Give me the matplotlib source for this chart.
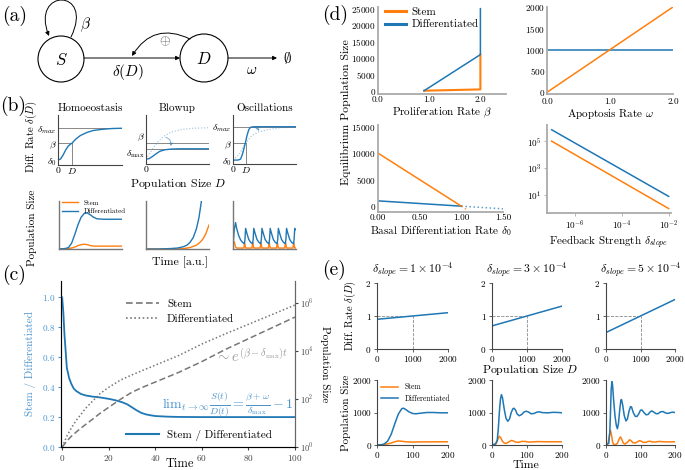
import matplotlib
matplotlib.use("Agg")
import matplotlib.pyplot as plt
import numpy as np
from matplotlib.patches import Circle, FancyArrowPatch
from matplotlib.path import Path
from matplotlib.lines import Line2D

plt.rcParams['font.family'] = 'serif'
plt.rcParams['font.serif'] = ['cmr10', 'DejaVu Serif']
plt.rcParams['mathtext.fontset'] = 'cm'
plt.rcParams['axes.formatter.use_mathtext'] = True
plt.rcParams['axes.unicode_minus'] = False

W, H = 685, 470
ORANGE = '#ff7f0e'
BLUE = '#1f77b4'
LBLUE = '#4d94cc'
DGRAY = '#444444'
TICK = 6.6
LAB = 8

# ---------------- data ----------------
# (b) top row: delta(D) sketches, axis fraction units
b_hom_x = [0, 0.04, 0.08, 0.12, 0.16, 0.22, 0.28, 0.35, 0.45, 0.55, 0.7, 0.85, 1.0]
b_hom_y = [0.1, 0.12, 0.2, 0.3, 0.38, 0.44, 0.52, 0.59, 0.65, 0.69, 0.715, 0.73, 0.735]
b_hom_levels = {'dmax': 0.74, 'beta': 0.44, 'd0': 0.1, 'D': 0.22}

b_blow_x = [0, 0.05, 0.1, 0.15, 0.22, 0.3, 0.4, 0.55, 1.0]
b_blow_y = [0.1, 0.11, 0.15, 0.2, 0.26, 0.29, 0.305, 0.31, 0.31]
b_blow_fx = [0, 0.1, 0.2, 0.3, 0.4, 0.55, 0.75, 1.0]
b_blow_fy = [0.1, 0.3, 0.47, 0.58, 0.65, 0.7, 0.73, 0.74]
b_blow_levels = {'beta': 0.43, 'dmax': 0.31}

b_osc_x = [0, 0.08, 0.12, 0.15, 0.18, 0.2, 0.22, 0.25, 0.28, 0.33, 1.0]
b_osc_y = [0.08, 0.08, 0.1, 0.2, 0.35, 0.45, 0.57, 0.7, 0.75, 0.76, 0.76]
b_osc_fx = [0, 0.1, 0.2, 0.3, 0.4, 0.55, 0.75, 1.0]
b_osc_fy = [0.08, 0.2, 0.43, 0.58, 0.65, 0.7, 0.74, 0.75]
b_osc_levels = {'dmax': 0.76, 'beta': 0.43, 'd0': 0.08, 'D': 0.2}

# (b) bottom row: population sketches, time 0..100, size 0..1
bt_hom_t = [0, 10, 15, 20, 25, 30, 35, 40, 45, 50, 55, 60, 70, 80, 100]
bt_hom_D = [0, 0.01, 0.03, 0.12, 0.3, 0.5, 0.66, 0.74, 0.75, 0.71, 0.66, 0.63, 0.62, 0.62, 0.62]
bt_hom_S = [0, 0, 0.01, 0.02, 0.04, 0.07, 0.09, 0.1, 0.09, 0.07, 0.06, 0.06, 0.06, 0.06, 0.06]

bt_blow_t = [0, 20, 40, 50, 60, 65, 70, 75, 80, 84, 88]
bt_blow_D = [0, 0, 0.01, 0.02, 0.05, 0.08, 0.14, 0.24, 0.42, 0.65, 1.0]
bt_blow_St = [0, 50, 60, 70, 80, 85, 90, 95, 100]
bt_blow_S = [0, 0, 0.01, 0.03, 0.08, 0.13, 0.2, 0.32, 0.5]

bt_osc_t = [0, 2, 4, 6, 9, 12, 15, 18, 19, 20, 22, 25, 28, 31, 32, 33, 35, 38, 41, 44,
            45, 46, 48, 51, 54, 57, 58, 59, 61, 64, 67, 70, 71, 72, 74, 77, 80, 83,
            84, 85, 87, 90, 93, 96, 97, 98, 100]
bt_osc_D = [0.05, 0.4, 0.55, 0.42, 0.28, 0.19, 0.14, 0.11, 0.2, 0.43, 0.33, 0.2, 0.14, 0.11, 0.2, 0.43, 0.33, 0.2, 0.14, 0.11,
            0.2, 0.43, 0.33, 0.2, 0.14, 0.11, 0.2, 0.43, 0.33, 0.2, 0.14, 0.11, 0.2, 0.43, 0.33, 0.2, 0.14, 0.11,
            0.2, 0.43, 0.33, 0.2, 0.14, 0.11, 0.2, 0.43, 0.4]
bt_osc_St = [0, 2, 4, 6, 17, 18.5, 20, 30, 31.5, 33, 43, 44.5, 46, 56, 57.5, 59, 69, 70.5, 72,
             82, 83.5, 85, 95, 96.5, 98, 100]
bt_osc_S = [0.12, 0.15, 0.04, 0.02, 0.02, 0.13, 0.02, 0.02, 0.13, 0.02, 0.02, 0.13, 0.02, 0.02, 0.13, 0.02,
            0.02, 0.13, 0.02, 0.02, 0.13, 0.02, 0.02, 0.13, 0.02, 0.02]

# (c) ratio and log10 population sizes over time
c_t = [0, 0.5, 1, 2, 3, 4, 5, 6, 8, 10, 13, 16, 20, 23, 26, 28, 30, 32, 34, 36, 38, 40, 45, 50, 60, 70, 80, 90, 100]
c_ratio = [1.0, 0.9, 0.75, 0.53, 0.46, 0.42, 0.39, 0.375, 0.355, 0.345, 0.337, 0.332, 0.322, 0.312, 0.298, 0.285,
           0.265, 0.245, 0.228, 0.218, 0.212, 0.207, 0.203, 0.201, 0.2, 0.2, 0.2, 0.2, 0.2]
c_pop_t = [0, 1, 2, 4, 6, 8, 10, 13, 16, 20, 25, 30, 35, 40, 45, 50, 60, 70, 80, 90, 100]
c_stem_log10 = [0, 0.12, 0.25, 0.45, 0.62, 0.78, 0.93, 1.15, 1.38, 1.65, 1.98, 2.28, 2.5, 2.7, 2.9, 3.1, 3.55,
                4.05, 4.5, 4.95, 5.4]
c_diff_log10 = [0, 0.22, 0.45, 0.8, 1.1, 1.35, 1.6, 1.9, 2.2, 2.48, 2.78, 3.0, 3.2, 3.4, 3.6, 3.8, 4.28, 4.7,
                5.1, 5.5, 5.9]

# (d) equilibrium sizes
d_beta_x = [0.9, 2.0, 2.0]
d_beta_D = [0, 11000, 25000]
d_beta_Sx = [0.9, 2.0, 2.0]
d_beta_S = [0, 400, 11000]
d_omega = [0, 2]
d_omega_S = [0, 2000]
d_omega_D = [1000, 1000]
d_d0 = [0, 1.0]
d_d0_S = [10000, 0]
d_d0_D = [1000, 0]
d_d0_ext = [1.0, 1.07, 1.5]
d_d0_S_ext = [0, -700]
d_d0_D_ext = [0, -500]
d_slope = [1e-7, 1e-2]
d_slope_S = [1e5, 1e0]
d_slope_D = [7e5, 8]

# (e) linear feedback and time courses
e_slopes = ['1', '3', '5']
e_D = [0, 2000]
e_delta = [[0.9, 1.1], [0.7, 1.3], [0.5, 1.5]]
e_ref_D, e_ref_delta = 1000, 1

e_t1 = [0, 10, 20, 30, 40, 50, 60, 70, 75, 80, 90, 100, 110, 120, 140, 160, 180, 200]
e_D1 = [0, 5, 30, 120, 330, 650, 950, 1120, 1130, 1100, 1020, 970, 960, 975, 1000, 1000, 990, 990]
e_tS1 = [0, 20, 40, 50, 60, 70, 80, 100, 120, 200]
e_S1 = [0, 10, 60, 100, 125, 115, 100, 90, 95, 100]

e_t2 = [0, 10, 15, 18, 21, 24, 27, 30, 35, 40, 45, 50, 55, 60, 63, 67, 72, 78, 85, 92, 98, 105, 112, 120,
        128, 135, 145, 160, 175, 190, 200]
e_D2 = [0, 30, 150, 500, 1000, 1400, 1550, 1450, 1100, 820, 730, 800, 1000, 1120, 1130, 1080, 950, 900, 940,
        1020, 1040, 1010, 960, 970, 1010, 1020, 995, 990, 1005, 1000, 990]
e_tS2 = [0, 12, 17, 21, 25, 30, 35, 40, 47, 55, 60, 67, 75, 85, 95, 105, 115, 130, 150, 200]
e_S2 = [0, 40, 180, 270, 220, 110, 60, 50, 90, 140, 130, 90, 80, 110, 110, 90, 95, 105, 100, 100]

e_t3 = [0, 8, 11, 13, 15, 17, 19, 22, 26, 30, 33, 36, 40, 43, 45, 48, 53, 58, 62, 67, 71, 74, 79, 85, 90,
        95, 100, 104, 110, 116, 122, 128, 133, 140, 146, 152, 158, 165, 172, 178, 185, 192, 200]
e_D3 = [0, 50, 400, 1000, 1700, 1950, 1850, 1400, 900, 600, 500, 650, 1100, 1380, 1400, 1250, 900, 740, 800,
        1050, 1180, 1170, 1000, 880, 880, 960, 1070, 1080, 1000, 930, 940, 1020, 1050, 1000, 960, 970, 1020,
        1030, 990, 970, 990, 1010, 1000]
e_tS3 = [0, 6, 10, 13, 16, 19, 22, 27, 33, 38, 42, 46, 50, 55, 62, 68, 72, 78, 85, 90, 96, 102, 108, 115,
         122, 128, 135, 145, 155, 165, 180, 200]
e_S3 = [0, 60, 300, 450, 300, 100, 20, 5, 50, 180, 250, 170, 60, 30, 80, 160, 140, 70, 60, 90, 130, 120, 80,
        80, 110, 115, 90, 95, 110, 100, 95, 100]


def box(x0, y0, x1, y1):
    return [x0 / W, 1 - y1 / H, (x1 - x0) / W, (y1 - y0) / H]


def put(x, y, s, **kw):
    fig.text(x / W, 1 - y / H, s, **kw)


def clean(ax, col=DGRAY, lw=0.8):
    for s in ['top', 'right']:
        ax.spines[s].set_visible(False)
    for s in ['left', 'bottom']:
        ax.spines[s].set_color(col)
        ax.spines[s].set_linewidth(lw)
    ax.tick_params(labelsize=TICK, length=2.5, width=0.6, color=col, pad=1.5)


fig = plt.figure(figsize=(W / 100, H / 100), dpi=100)

# ---------------- (a) diagram ----------------
axa = fig.add_axes(box(0, 0, 340, 95))
axa.set_xlim(0, 340)
axa.set_ylim(95, 0)
axa.axis('off')
axa.add_patch(Circle((61, 59), 23, fill=False, lw=0.8, color='k'))
axa.add_patch(Circle((204, 58), 24, fill=False, lw=0.8, color='k'))
axa.text(61, 60, '$S$', ha='center', va='center', fontsize=12)
axa.text(204, 59, '$D$', ha='center', va='center', fontsize=12)
arr = dict(arrowstyle='-|>', color='k', lw=0.7, mutation_scale=6, shrinkA=0, shrinkB=0)
axa.annotate('', xy=(180, 58), xytext=(84, 58), arrowprops=arr)
axa.annotate('', xy=(277, 58), xytext=(228, 58), arrowprops=arr)
axa.annotate('', xy=(132, 56), xytext=(190, 39),
             arrowprops=dict(arr, connectionstyle='arc3,rad=0.45'))
loop = Path([(71, 37), (95, -12), (30, -12), (49, 36)],
            [Path.MOVETO, Path.CURVE4, Path.CURVE4, Path.CURVE4])
axa.add_patch(FancyArrowPatch(path=loop, arrowstyle='-|>', mutation_scale=6, lw=0.7, color='k'))
axa.text(86, 25, r'$\beta$', ha='center', va='center', fontsize=11)
axa.text(128, 72, r'$\delta(D)$', ha='center', va='center', fontsize=11)
axa.text(165, 42, r'$\oplus$', ha='center', va='center', fontsize=10, color='#555555')
axa.text(252, 70, r'$\omega$', ha='center', va='center', fontsize=11)
axa.text(287, 58, r'$\emptyset$', ha='center', va='center', fontsize=11)

# ---------------- (b) sketches ----------------
lvl = dict(color='#888888', lw=0.7)
fade = dict(color=BLUE, alpha=0.45, lw=0.8, ls=':')
BT = 7

ax = fig.add_axes(box(58, 115, 122, 165))
clean(ax)
ax.set_xlim(0, 1)
ax.set_ylim(0, 1)
L = b_hom_levels
ax.plot([0, 1], [L['dmax']] * 2, **lvl)
ax.plot([0, L['D']], [L['beta']] * 2, **lvl)
ax.plot([L['D']] * 2, [0, L['beta']], **lvl)
ax.plot(b_hom_x, b_hom_y, color=BLUE, lw=1)
ax.set_yticks([L['d0'], L['beta'], L['dmax']], [r'$\delta_0$', r'$\beta$', r'$\delta_{max}$'])
ax.set_xticks([0, L['D']], ['0', '$D$'])
ax.tick_params(length=0, labelsize=BT, pad=1)
ax.set_title('Homoeostasis', fontsize=LAB, pad=3)

ax = fig.add_axes(box(146, 115, 209, 164))
clean(ax)
ax.set_xlim(0, 1)
ax.set_ylim(0, 1)
L = b_blow_levels
ax.plot([0, 1], [L['beta']] * 2, **lvl)
ax.plot([0, 1], [L['dmax']] * 2, **lvl)
ax.plot(b_blow_fx, b_blow_fy, **fade)
ax.plot(b_blow_x, b_blow_y, color=BLUE, lw=1)
ax.annotate('', xy=(0.38, 0.31), xytext=(0.27, 0.56),
            arrowprops=dict(arrowstyle='->', color=BLUE, alpha=0.6, lw=0.6,
                            connectionstyle='arc3,rad=-0.6', mutation_scale=5))
ax.set_yticks([L['dmax'], L['beta']], [r'$\delta_{\max}$', r'$\beta$'])
ax.set_xticks([0], ['0'])
ax.tick_params(length=0, labelsize=BT, pad=1)
ax.get_yticklabels()[1].set_va('bottom')
ax.get_yticklabels()[0].set_va('top')
ax.set_title('Blowup', fontsize=LAB, pad=3)

ax = fig.add_axes(box(233, 115, 296, 164))
clean(ax)
ax.set_xlim(0, 1)
ax.set_ylim(0, 1)
L = b_osc_levels
ax.plot([0, 1], [L['dmax']] * 2, **lvl)
ax.plot([0, L['D']], [L['beta']] * 2, **lvl)
ax.plot([L['D']] * 2, [0, L['beta']], **lvl)
ax.plot(b_osc_fx, b_osc_fy, **fade)
ax.plot(b_osc_x, b_osc_y, color=BLUE, lw=1)
ax.annotate('', xy=(0.43, 0.62), xytext=(0.27, 0.74),
            arrowprops=dict(arrowstyle='->', color=BLUE, alpha=0.6, lw=0.6,
                            connectionstyle='arc3,rad=-0.5', mutation_scale=5))
ax.set_yticks([L['d0'], L['beta'], L['dmax']], [r'$\delta_0$', r'$\beta$', r'$\delta_{max}$'])
ax.set_xticks([0, L['D']], ['0', '$D$'])
ax.tick_params(length=0, labelsize=BT, pad=1)
ax.set_title('Oscillations', fontsize=LAB, pad=3)

put(31, 137, r'Diff. Rate $\delta(D)$', rotation=90, ha='center', va='center', fontsize=LAB - 0.3)
put(178, 184, r'Population Size $D$', ha='center', va='center', fontsize=LAB + 0.5)

bt = [(59, 122, bt_hom_t, bt_hom_D, bt_hom_t, bt_hom_S),
      (146, 209, bt_blow_t, bt_blow_D, bt_blow_St, bt_blow_S),
      (233, 296, bt_osc_t, bt_osc_D, bt_osc_St, bt_osc_S)]
for i, (x0, x1, tD, vD, tS, vS) in enumerate(bt):
    ax = fig.add_axes(box(x0, 201, x1, 249))
    clean(ax, col='#777777', lw=1.0)
    ax.plot(tS, vS, color=ORANGE, lw=1, label='Stem')
    ax.plot(tD, vD, color=BLUE, lw=1, label='Differentiated')
    ax.set_xlim(0, 100)
    ax.set_ylim(0, 1)
    ax.set_xticks([])
    ax.set_yticks([])
    if i == 0:
        ax.legend(loc='upper left', fontsize=5, frameon=False, handlelength=2.2,
                  borderaxespad=0.1, labelspacing=0.4, bbox_to_anchor=(0.0, 1.1))
put(32, 228, 'Population Size', rotation=90, ha='center', va='center', fontsize=LAB)
put(180, 262, 'Time [a.u.]', ha='center', va='center', fontsize=LAB + 0.5)

# ---------------- (c) ----------------
axc = fig.add_axes(box(61, 281, 295, 447))
axc.spines['top'].set_visible(False)
for s in ['left', 'bottom', 'right']:
    axc.spines[s].set_color('#666666')
axc.plot(c_t, c_ratio, color=BLUE, lw=1.3)
axc.set_xlim(-0.5, 100)
axc.set_ylim(0, 1.11)
axc.set_yticks([0, 0.2, 0.4, 0.6, 0.8, 1.0])
axc.set_xticks([0, 20, 40, 60, 80, 100])
axc.tick_params(axis='y', labelsize=TICK, colors=LBLUE, length=2.5, pad=1.5)
axc.tick_params(axis='x', labelsize=TICK, colors=DGRAY, length=2.5, pad=1.5)
axc.set_ylabel('Stem / Differentiated', fontsize=LAB, color=LBLUE, labelpad=4)
put(180, 464, 'Time', ha='center', va='center', fontsize=LAB + 1)

axr = axc.twinx()
axr.spines['top'].set_visible(False)
axr.spines['right'].set_color('#666666')
axr.plot(c_pop_t, 10 ** np.array(c_stem_log10), color='#777777', lw=1.1, ls=(0, (4, 2)))
axr.plot(c_pop_t, 10 ** np.array(c_diff_log10), color='#777777', lw=1.1, ls=(0, (1, 1.5)))
axr.set_yscale('log')
axr.set_ylim(1, 10 ** 6.9)
axr.set_yticks([1, 1e2, 1e4, 1e6])
axr.yaxis.set_minor_locator(matplotlib.ticker.NullLocator())
axr.tick_params(axis='y', labelsize=6, colors=DGRAY, length=2.5, pad=1)
axr.set_ylabel('Population Size', fontsize=LAB, rotation=270, labelpad=12)

h1 = [Line2D([], [], color='#777777', lw=1.2, ls=(0, (4, 2))),
      Line2D([], [], color='#777777', lw=1.2, ls=(0, (1, 1.5)))]
fig.legend(h1, ['Stem', 'Differentiated'], loc='upper left', frameon=False, fontsize=LAB,
           bbox_to_anchor=(116 / W, 1 - 289 / H), handlelength=3.0, labelspacing=0.45,
           handletextpad=0.7)
fig.legend([Line2D([], [], color=BLUE, lw=1.5)], ['Stem / Differentiated'], loc='center left',
           frameon=False, fontsize=LAB, bbox_to_anchor=(116 / W, 1 - 435 / H), handlelength=3.0,
           handletextpad=0.7)
put(252, 356, r'$\sim e^{(\beta-\delta_{\max})t}$', ha='center', va='center', fontsize=10.5, color='#999999')
put(228, 404, r'$\mathrm{lim}_{t\to\infty}\frac{S(t)}{D(t)}=\frac{\beta+\omega}{\delta_{\max}}-1$',
    ha='center', va='center', fontsize=10, color=LBLUE)

# ---------------- (d) ----------------
dcol = '#aaaaaa'
ax = fig.add_axes(box(378, 7, 506, 94))
clean(ax, col=dcol, lw=1.3)
ax.plot(d_beta_Sx, d_beta_S, color=ORANGE, lw=1.5, label='Stem')
ax.plot(d_beta_x, d_beta_D, color=BLUE, lw=1.1, label='Differentiated')
ax.set_xlim(0, 2.5)
ax.set_ylim(-1000, 25500)
ax.set_xticks([0, 1, 2], ['0.0', '1.0', '2.0'])
ax.set_yticks([0, 5000, 10000, 15000, 20000, 25000])
ax.tick_params(length=0)
ax.set_xlabel(r'Proliferation Rate $\beta$', fontsize=LAB, labelpad=1)
ax.legend(loc='upper left', fontsize=LAB, frameon=False, handlelength=1.9, borderaxespad=0,
          bbox_to_anchor=(0.02, 1.05), labelspacing=0.25, handletextpad=0.5)
for h in ax.get_legend().legend_handles:
    h.set_linewidth(2.2)

ax = fig.add_axes(box(547, 7, 673, 94))
clean(ax, col=dcol, lw=1.3)
ax.plot(d_omega, d_omega_D, color=BLUE, lw=1.1)
ax.plot(d_omega, d_omega_S, color=ORANGE, lw=1.1)
ax.set_xlim(0, 2)
ax.set_ylim(-40, 2000)
ax.set_xticks([0, 1, 2], ['0.0', '1.0', '2.0'])
ax.set_yticks([0, 500, 1000, 1500, 2000])
ax.tick_params(length=0)
ax.tick_params(axis='x', pad=2.5)
ax.set_xlabel(r'Apoptosis Rate $\omega$', fontsize=LAB, labelpad=1)

ax = fig.add_axes(box(378, 125, 503, 212))
clean(ax, col=dcol, lw=1.3)
ax.plot(d_d0, d_d0_D, color=BLUE, lw=1.1)
ax.plot(d_d0, d_d0_S, color=ORANGE, lw=1.1)
ax.plot([d_d0_ext[0], d_d0_ext[2]], d_d0_D_ext, color=BLUE, lw=1.1, ls=':', alpha=0.7)
ax.plot([d_d0_ext[0], d_d0_ext[1]], d_d0_S_ext, color=ORANGE, lw=1.1, ls=':', alpha=0.7)
ax.set_xlim(0, 1.5)
ax.set_ylim(-1100, 15300)
ax.set_xticks([0, 0.5, 1.0, 1.5], ['0.00', '0.50', '1.00', '1.50'])
ax.set_yticks([0, 5000, 10000, 15000])
ax.tick_params(length=0)
ax.set_xlabel(r'Basal Differentiation Rate $\delta_0$', fontsize=LAB, labelpad=1)

ax = fig.add_axes(box(547, 125, 671, 213))
clean(ax, col=dcol, lw=1.3)
ax.plot(d_slope, d_slope_D, color=BLUE, lw=1.1)
ax.plot(d_slope, d_slope_S, color=ORANGE, lw=1.1)
ax.set_xscale('log')
ax.set_yscale('log')
ax.set_xlim(10 ** -7.2, 10 ** -1.9)
ax.set_ylim(10 ** -0.33, 10 ** 6.2)
ax.set_xticks([1e-6, 1e-4, 1e-2])
ax.set_yticks([1e1, 1e3, 1e5])
ax.xaxis.set_minor_locator(matplotlib.ticker.NullLocator())
ax.yaxis.set_minor_locator(matplotlib.ticker.NullLocator())
ax.tick_params(length=2.5, color=dcol)
ax.set_xlabel(r'Feedback Strength $\delta_{slope}$', fontsize=LAB, labelpad=1)

put(346, 112, 'Equilibrium Population Size', rotation=90, ha='center', va='center', fontsize=LAB + 0.5)

# ---------------- (e) ----------------
xs = [(377, 448), (492, 562), (606, 675)]
times = [(e_t1, e_D1, e_tS1, e_S1), (e_t2, e_D2, e_tS2, e_S2), (e_t3, e_D3, e_tS3, e_S3)]
for i, (x0, x1) in enumerate(xs):
    ax = fig.add_axes(box(x0, 283, x1, 349))
    clean(ax)
    ax.plot([0, e_ref_D], [e_ref_delta] * 2, color='#888888', lw=0.6, ls='--')
    ax.plot([e_ref_D] * 2, [0, e_ref_delta], color='#888888', lw=0.6, ls='--')
    ax.plot(e_D, e_delta[i], color=BLUE, lw=1.1)
    ax.set_xlim(0, 2000)
    ax.set_ylim(0, 2)
    ax.set_xticks([0, 1000, 2000])
    ax.set_yticks([0, 1, 2])
    ax.tick_params(axis='x', pad=1)
    ax.set_title(r'$\delta_{slope} = %s\times10^{-4}$' % e_slopes[i], fontsize=LAB + 0.5, pad=7)

    ax = fig.add_axes(box(x0, 380, x1, 445))
    clean(ax)
    tD, vD, tS, vS = times[i]
    ax.plot(tS, vS, color=ORANGE, lw=1.1, label='Stem')
    ax.plot(tD, vD, color=BLUE, lw=1.1, label='Differentiated')
    ax.set_xlim(0, 200)
    ax.set_ylim(0, 2000)
    ax.set_xticks([0, 100, 200])
    ax.set_yticks([0, 1000, 2000])
    ax.tick_params(axis='x', pad=1)
    ax.tick_params(axis='y', pad=1)
    if i == 0:
        ax.legend(loc='upper left', fontsize=5.5, frameon=False, handlelength=2.2,
                  borderaxespad=0, bbox_to_anchor=(0.02, 1.0), labelspacing=0.4)

put(350, 316, r'Diff. Rate $\delta(D)$', rotation=90, ha='center', va='center', fontsize=LAB - 0.5)
put(346, 413, 'Population Size', rotation=90, ha='center', va='center', fontsize=LAB)
put(530, 370, r'Population Size $D$', ha='center', va='center', fontsize=LAB + 0.5)
put(526, 465, 'Time', ha='center', va='center', fontsize=LAB + 0.5)

# panel letters
for s, x, y in [('(a)', 2, 16), ('(b)', 0, 106), ('(c)', 2, 275), ('(d)', 322, 15), ('(e)', 322, 270)]:
    put(x, y, s, fontsize=14, va='center')

fig.savefig('out.png', dpi=100)
